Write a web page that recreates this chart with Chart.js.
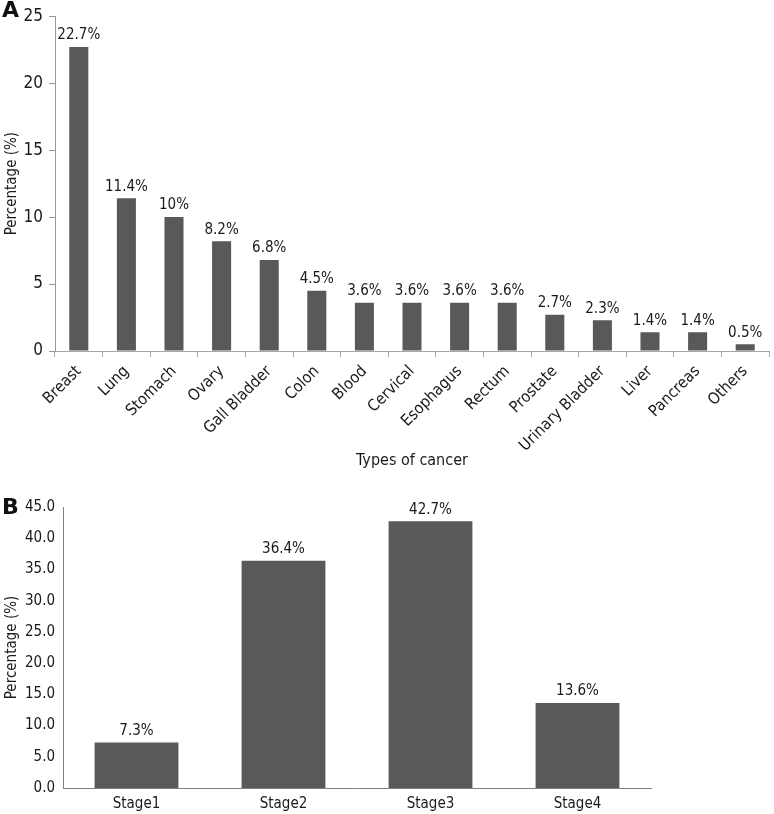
<!DOCTYPE html>
<html>
<head>
<meta charset="utf-8">
<script src="https://cdn.jsdelivr.net/npm/chart.js@4"></script>
<style>
	body { margin: 0; background: #ffffff; }
	#wrap { position: relative; width: 774px; height: 814px; }
	.panel-letter { position: absolute; left: 2px; font: bold 22px "DejaVu Sans", sans-serif; color: #111111; }
	#boxA { position: absolute; left: 0; top: 0; width: 774px; height: 490px; }
	#boxB { position: absolute; left: 0; top: 490px; width: 774px; height: 324px; }
</style>
</head>
<body>
<div id="wrap">
	<div id="boxA"><canvas id="chartA"></canvas></div>
	<div id="boxB"><canvas id="chartB"></canvas></div>
	<div class="panel-letter" style="top:-3px;">A</div>
	<div class="panel-letter" style="top:494px;">B</div>
</div>
<script>
// panel A - types of cancer
const cancerTypes = ['Breast', 'Lung', 'Stomach', 'Ovary', 'Gall Bladder', 'Colon', 'Blood', 'Cervical',
	'Esophagus', 'Rectum', 'Prostate', 'Urinary Bladder', 'Liver', 'Pancreas', 'Others'];
const cancerPct = [22.7, 11.4, 10, 8.2, 6.8, 4.5, 3.6, 3.6, 3.6, 3.6, 2.7, 2.3, 1.4, 1.4, 0.5];

// panel B - stages
const stages = ['Stage1', 'Stage2', 'Stage3', 'Stage4'];
const stagePct = [7.3, 36.4, 42.7, 13.6];

const FONT = '"DejaVu Sans Condensed", "DejaVu Sans", sans-serif';
const TEXT = '#1a1a1a';
const BAR = '#595959';

// draws "x%" above each bar
const valueLabels = {
	id: 'valueLabels',
	afterDatasetsDraw: (chart, args, options) => {
		const { ctx } = chart;
		const meta = chart.getDatasetMeta(0);
		const values = chart.data.datasets[0].data;
		ctx.save();
		ctx.font = '15px ' + FONT;
		ctx.fillStyle = TEXT;
		ctx.textAlign = 'center';
		ctx.textBaseline = 'bottom';
		meta.data.forEach((bar, i) => {
			ctx.fillText(String(values[i]) + '%', bar.x, bar.y - 4);
		});
		ctx.restore();
	}
};

Chart.defaults.font.family = FONT;
Chart.defaults.color = TEXT;
Chart.defaults.animation = false;

const ctxA = document.getElementById('chartA').getContext('2d');
const chartA = new Chart(ctxA, {
	type: 'bar',
	data: {
		labels: cancerTypes,
		datasets: [{
			data: cancerPct,
			backgroundColor: BAR,
			barPercentage: 0.4,
			categoryPercentage: 1
		}]
	},
	options: {
		responsive: true,
		maintainAspectRatio: false,
		layout: { padding: { top: 8, right: 5, bottom: 16, left: 0 } },
		plugins: {
			legend: { display: false },
			tooltip: { enabled: false }
		},
		scales: {
			x: {
				afterFit: (scale) => { scale.height = 123; },
				grid: { drawOnChartArea: false, offset: true, tickLength: 6, color: '#a6a6a6' },
				border: { color: '#a6a6a6' },
				ticks: { minRotation: 45, maxRotation: 45, autoSkip: false, padding: 5, font: { size: 16 } },
				title: { display: true, text: 'Types of cancer', font: { size: 16 }, padding: { top: 4, bottom: 4 } }
			},
			y: {
				min: 0,
				max: 25,
				afterFit: (scale) => { scale.width = 55; },
				grid: { drawOnChartArea: false, tickLength: 6, color: '#999999' },
				border: { color: '#999999' },
				ticks: { stepSize: 5, padding: 6, font: { size: 17 } },
				title: { display: true, text: 'Percentage (%)', font: { size: 15 }, padding: { top: 3, bottom: 3 } }
			}
		}
	},
	plugins: [valueLabels]
});

const ctxB = document.getElementById('chartB').getContext('2d');
const chartB = new Chart(ctxB, {
	type: 'bar',
	data: {
		labels: stages,
		datasets: [{
			data: stagePct,
			backgroundColor: BAR,
			barPercentage: 0.57,
			categoryPercentage: 1
		}]
	},
	options: {
		responsive: true,
		maintainAspectRatio: false,
		layout: { padding: { top: 10, right: 123, bottom: 0, left: 0 } },
		plugins: {
			legend: { display: false },
			tooltip: { enabled: false }
		},
		scales: {
			x: {
				afterFit: (scale) => { scale.height = 26; },
				grid: { display: false, drawTicks: false },
				border: { color: '#808080' },
				ticks: { padding: 7, font: { size: 15 } }
			},
			y: {
				min: 0,
				max: 45,
				afterFit: (scale) => { scale.width = 63; },
				grid: { display: false, drawTicks: false },
				border: { color: '#808080' },
				ticks: {
					stepSize: 5,
					padding: 8,
					font: { size: 15 },
					callback: (v) => Number(v).toFixed(1)
				},
				title: { display: true, text: 'Percentage (%)', font: { size: 15 }, padding: { top: 3, bottom: 3 } }
			}
		}
	},
	plugins: [valueLabels]
});
</script>
</body>
</html>
